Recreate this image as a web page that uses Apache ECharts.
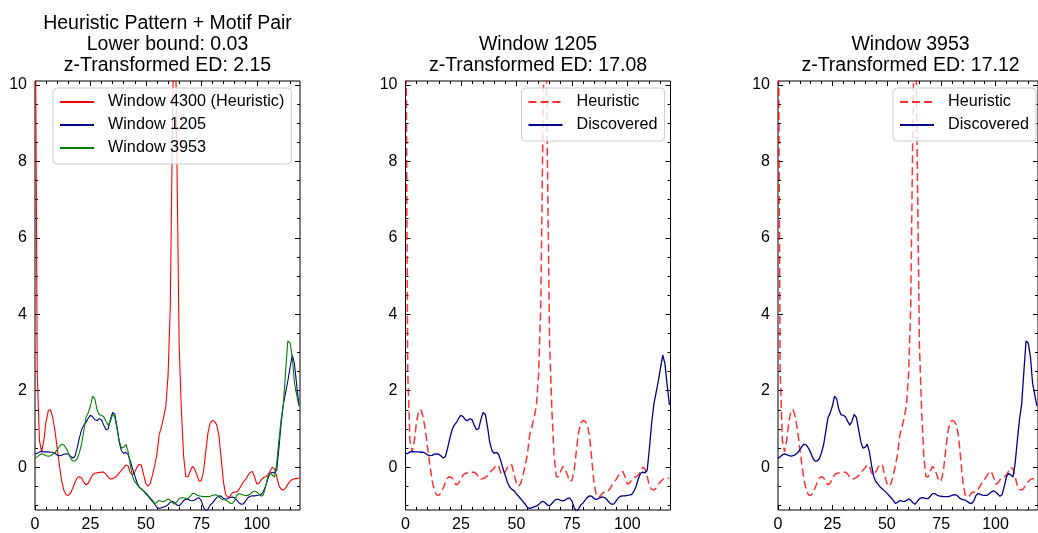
<!DOCTYPE html>
<html lang="en">
<head>
    <meta charset="UTF-8">
    <title>Heuristic Pattern + Motif Pair</title>
    <script src="https://cdn.jsdelivr.net/npm/echarts@6/dist/echarts.min.js"></script>
    <style>
        body { margin: 0; background: #fff; }
        #main { width: 1038px; height: 533px; }
    </style>
</head>
<body>

<div id="main"></div>

<script>
    // window 4300, the heuristic pattern (z-normalised)
    var heuristic = [
        14, 2.5, 0.7, 0.4, 0.7, 1.2, 1.48, 1.5, 1.3, 0.95,
        0.5, 0.05, -0.35, -0.6, -0.72, -0.74, -0.68, -0.55, -0.4, -0.28,
        -0.25, -0.28, -0.4, -0.46, -0.42, -0.3, -0.2, -0.16, -0.15, -0.14,
        -0.13, -0.13, -0.18, -0.26, -0.31, -0.3, -0.27, -0.22, -0.15, -0.08,
        -0.02, 0.06, 0.03, -0.15, -0.2, -0.12, 0.0, 0.08, 0.05, -0.2,
        -0.42, -0.5, -0.42, -0.2, 0.05, 0.35, 0.85, 1.05, 1.3, 1.6,
        2.4, 4.2, 9.0, 13, 8, 3.2, 1.5, 0.3, -0.25, -0.25,
        -0.1, 0.02, -0.05, -0.2, -0.37, -0.35, -0.1, 0.4, 0.9, 1.15,
        1.22, 1.2, 1.1, 0.8, 0.2, -0.4, -0.72, -0.79, -0.75, -0.67,
        -0.65, -0.65, -0.58, -0.48, -0.38, -0.32, -0.22, -0.14, -0.11, -0.25,
        -0.44, -0.42, -0.33, -0.27, -0.25, -0.2, -0.1, 0.0, -0.05, -0.25,
        -0.48, -0.58, -0.6, -0.55, -0.45, -0.38, -0.32, -0.3, -0.3, -0.28
    ];

    var window1205 = [
        0.35, 0.36, 0.4, 0.41, 0.4, 0.4, 0.4, 0.39, 0.39, 0.36,
        0.32, 0.3, 0.31, 0.34, 0.35, 0.34, 0.29, 0.24, 0.28, 0.5,
        0.76, 0.98, 1.1, 1.17, 1.28, 1.36, 1.32, 1.24, 1.22, 1.27,
        1.24, 1.1, 0.98, 1.0, 1.25, 1.43, 1.38, 1.05, 0.65, 0.43,
        0.36, 0.39, 0.33, 0.16, -0.04, -0.22, -0.4, -0.52, -0.58, -0.62,
        -0.7, -0.76, -0.83, -0.9, -0.97, -1.05, -1.08, -1.06, -1.04, -1.02,
        -0.98, -0.92, -0.89, -0.93, -0.99, -1.01, -0.95, -0.88, -0.84, -0.84,
        -0.87, -0.88, -0.86, -0.82, -0.8, -0.88, -1.05, -1.15, -1.1, -0.99,
        -0.94, -0.86, -0.79, -0.75, -0.76, -0.82, -0.84, -0.82, -0.79, -0.78,
        -0.8, -0.86, -0.93, -0.97, -0.96, -0.88, -0.8, -0.76, -0.75, -0.75,
        -0.74, -0.73, -0.71, -0.63, -0.5, -0.3, -0.16, -0.13, -0.15, -0.08,
        0.5, 1.15, 1.65, 1.95, 2.25, 2.6, 2.93, 2.7, 2.15, 1.63
    ];

    var window3953 = [
        0.23, 0.27, 0.32, 0.35, 0.33, 0.3, 0.29, 0.3, 0.33, 0.38,
        0.45, 0.54, 0.6, 0.58, 0.5, 0.38, 0.24, 0.16, 0.16, 0.22,
        0.38, 0.6, 0.95, 1.3, 1.42, 1.6, 1.86, 1.78, 1.5, 1.37,
        1.36, 1.32, 1.2, 1.1, 1.2, 1.38, 1.3, 1.0, 0.68, 0.5,
        0.52, 0.6, 0.4, 0.05, -0.25, -0.38, -0.45, -0.52, -0.57, -0.62,
        -0.68, -0.74, -0.8, -0.87, -0.95, -0.92, -0.87, -0.89, -0.9, -0.87,
        -0.83, -0.86, -0.93, -0.97, -0.9, -0.82, -0.8, -0.8, -0.82, -0.82,
        -0.76, -0.69, -0.69, -0.73, -0.75, -0.76, -0.77, -0.77, -0.77, -0.76,
        -0.74, -0.72, -0.73, -0.78, -0.83, -0.85, -0.86, -0.9, -0.94, -0.95,
        -0.88, -0.74, -0.69, -0.71, -0.73, -0.74, -0.74, -0.7, -0.65, -0.62,
        -0.65, -0.7, -0.76, -0.72, -0.5, -0.25, -0.17, -0.2, -0.26, 0.1,
        0.7, 1.25, 1.65, 2.5, 3.3, 3.25, 2.9, 2.2, 1.9, 1.6
    ];

    var xMajor = [0, 25, 50, 75, 100];
    var xMinor = [5, 10, 15, 20, 30, 35, 40, 45, 55, 60, 65, 70, 80, 85, 90, 95, 105, 110, 115];
    var yMajor = [0, 2, 4, 6, 8, 10];
    var yMinor = [-1, -0.5, 0.5, 1, 1.5, 2.5, 3, 3.5, 4.5, 5, 5.5, 6.5, 7, 7.5, 8.5, 9, 9.5];

    var titles = [
        'Heuristic Pattern + Motif Pair\nLower bound: 0.03\nz-Transformed ED: 2.15',
        'Window 1205\nz-Transformed ED: 17.08',
        'Window 3953\nz-Transformed ED: 17.12'
    ];

    var FONT = '"Liberation Sans", Arial, sans-serif';
    var X_MIN = 0, X_MAX = 119.5, Y_MIN = -1.12, Y_MAX = 10.1;

    var grids = [
        {left: 35, top: 81, width: 265, height: 432},
        {left: 405.5, top: 81, width: 265, height: 432},
        {left: 778, top: 81, width: 265, height: 432}
    ];

    function pairs(arr) {
        return arr.map(function (v, i) { return [i, v]; });
    }

    function oneAxis(g, pos, ticks, len, labels) {
        var isX = pos === 'bottom' || pos === 'top';
        return {
            type: 'value', gridIndex: g, position: pos,
            min: isX ? X_MIN : Y_MIN,
            max: isX ? X_MAX : Y_MAX,
            axisLine: {show: false, onZero: false},
            splitLine: {show: false},
            axisTick: {show: true, inside: true, length: len, customValues: ticks,
                lineStyle: {color: '#000', width: 1}},
            axisLabel: labels ? {show: true, customValues: ticks, color: '#000', fontSize: 16,
                fontFamily: FONT, margin: pos === 'left' ? 8 : 7} : {show: false}
        };
    }

    var xAxes = [], yAxes = [];
    for (var g = 0; g < grids.length; g++) {
        grids[g].show = true;
        grids[g].borderColor = '#000';
        grids[g].borderWidth = 1;
        grids[g].backgroundColor = 'transparent';
        xAxes.push(oneAxis(g, 'bottom', xMajor, 5, true));
        xAxes.push(oneAxis(g, 'bottom', xMinor, 3, false));
        xAxes.push(oneAxis(g, 'top', xMajor, 5, false));
        xAxes.push(oneAxis(g, 'top', xMinor, 3, false));
        yAxes.push(oneAxis(g, 'left', yMajor, 5, true));
        yAxes.push(oneAxis(g, 'left', yMinor, 3, false));
        yAxes.push(oneAxis(g, 'right', yMajor, 5, false));
        yAxes.push(oneAxis(g, 'right', yMinor, 3, false));
    }

    function line(name, g, data, color, width, dash) {
        return {
            name: name, type: 'line', xAxisIndex: g * 4, yAxisIndex: g * 4,
            data: pairs(data), symbol: 'none', clip: true,
            lineStyle: {color: color, width: width, type: dash ? [8, 4] : 'solid'},
            itemStyle: {color: color},
            emphasis: {disabled: true}
        };
    }

    var dashRed = 'rgba(255,0,0,0.8)';
    var navy = '#00008b';

    var series = [
        line('Window 4300 (Heuristic)', 0, heuristic, '#ff0000', 1.1, false),
        line('Window 1205', 0, window1205, navy, 1.1, false),
        line('Window 3953', 0, window3953, '#008000', 1.1, false),
        line('Heuristic', 1, heuristic, dashRed, 1.5, true),
        line('Discovered', 1, window1205, navy, 1.3, false),
        line('Heuristic', 2, heuristic, dashRed, 1.5, true),
        line('Discovered', 2, window3953, navy, 1.3, false)
    ];

    function legendAt(left, names) {
        return {
            left: left, top: 88, orient: 'vertical',
            data: names,
            itemWidth: 34, itemHeight: 14, itemGap: 5,
            padding: [5, 7, 7, 6],
            backgroundColor: 'rgba(255,255,255,0.8)',
            borderColor: '#cccccc', borderWidth: 1, borderRadius: 4,
            selectedMode: false,
            itemStyle: {opacity: 0},
            textStyle: {fontSize: 16.2, fontFamily: FONT, color: '#000', lineHeight: 18,
                padding: [0, 0, 0, 9]}
        };
    }

    var titleText = [];
    for (var t = 0; t < titles.length; t++) {
        var lines = titles[t].split('\n').length;
        titleText.push({
            type: 'text',
            x: grids[t].left + grids[t].width / 2,
            y: 13 + (3 - lines) * 21,
            style: {
                text: titles[t], align: 'center', verticalAlign: 'top',
                fontSize: 19.5, fontFamily: FONT, lineHeight: 21, fill: '#000'
            }
        });
    }

    var chart = echarts.init(document.getElementById('main'));
    chart.setOption({
        animation: false,
        backgroundColor: '#fff',
        grid: grids,
        xAxis: xAxes,
        yAxis: yAxes,
        legend: [
            legendAt(53, ['Window 4300 (Heuristic)', 'Window 1205', 'Window 3953']),
            legendAt(521.5, ['Heuristic', 'Discovered']),
            legendAt(893, ['Heuristic', 'Discovered'])
        ],
        graphic: titleText,
        series: series
    });
</script>
</body>
</html>
